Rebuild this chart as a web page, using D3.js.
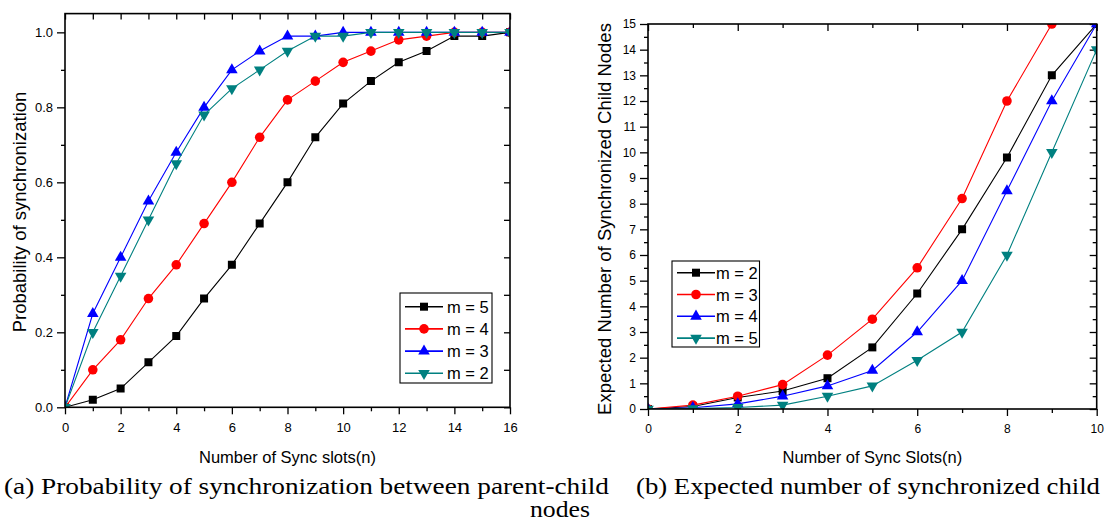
<!DOCTYPE html>
<html>
<head>
<meta charset="utf-8">
<script src="https://cdn.jsdelivr.net/npm/d3@7/dist/d3.min.js"></script>
<style>
  body { margin: 0; background: #fff; }
  svg text { font-family: "Liberation Sans", Arial, sans-serif; fill: #000; }
</style>
</head>
<body>
<svg id="fig" width="1107" height="524"></svg>
<script>
// ---- (a) probability of synchronization between parent and child ----
const slotsA = [0, 1, 2, 3, 4, 5, 6, 7, 8, 9, 10, 11, 12, 13, 14, 15, 16];
const probM5 = [0, 0.02, 0.05, 0.12, 0.19, 0.29, 0.38, 0.49, 0.60, 0.72, 0.81, 0.87, 0.92, 0.95, 0.99, 0.99, 1.0];
const probM4 = [0, 0.10, 0.18, 0.29, 0.38, 0.49, 0.60, 0.72, 0.82, 0.87, 0.92, 0.95, 0.98, 0.99, 1.0, 1.0, 1.0];
const probM3 = [0, 0.25, 0.40, 0.55, 0.68, 0.80, 0.90, 0.95, 0.99, 0.99, 1.0, 1.0, 1.0, 1.0, 1.0, 1.0, 1.0];
const probM2 = [0, 0.20, 0.35, 0.50, 0.65, 0.78, 0.85, 0.90, 0.95, 0.99, 0.99, 1.0, 1.0, 1.0, 1.0, 1.0, 1.0];
const xTicksA = [0, 2, 4, 6, 8, 10, 12, 14, 16];
const yTicksA = ["0.0", "0.2", "0.4", "0.6", "0.8", "1.0"];

// ---- (b) expected number of synchronized child nodes ----
const slotsB = [0, 1, 2, 3, 4, 5, 6, 7, 8, 9, 10];
const expM2 = [0, 0.10, 0.45, 0.70, 1.2, 2.4, 4.5, 7.0, 9.8, 13, 15];
const expM3 = [0, 0.15, 0.50, 0.95, 2.1, 3.5, 5.5, 8.2, 12, 15];
const expM4 = [0, 0.05, 0.20, 0.50, 0.9, 1.5, 3.0, 5.0, 8.5, 12, 15];
const expM5 = [0, 0.02, 0.06, 0.15, 0.5, 0.9, 1.9, 3.0, 6.0, 10, 14];
const xTicksB = [0, 2, 4, 6, 8, 10];
const yTicksB = ["0", "1", "2", "3", "4", "5", "6", "7", "8", "9", "10", "11", "12", "13", "14", "15"];

const COLORS = { black: "#000000", red: "#ff0000", blue: "#0000ff", teal: "#008080" };
const SHAPES = {
  square: { type: d3.symbolSquare, size: 64, rot: 0 },
  circle: { type: d3.symbolCircle, size: 72, rot: 0 },
  up:     { type: d3.symbolTriangle, size: 58, rot: 0 },
  down:   { type: d3.symbolTriangle, size: 58, rot: 180 }
};
const SERIF = '"Liberation Serif", "Times New Roman", Times, "Nimbus Roman", serif';

const svg = d3.select("#fig");

function symbolPath(shape) {
  return d3.symbol().type(SHAPES[shape].type).size(SHAPES[shape].size)();
}

function drawPanel(cfg) {
  const g = svg.append("g");
  const x = d3.scaleLinear().domain(cfg.xDomain).range(cfg.xRange);
  const y = d3.scaleLinear().domain(cfg.yDomain).range(cfg.yRange);
  const [x0, x1] = cfg.xRange;
  const [yb, yt] = cfg.yRange;

  // clipping region for the data marks
  const clipId = "clip-" + cfg.id;
  svg.append("clipPath").attr("id", clipId)
    .append("rect").attr("x", x0).attr("y", yt).attr("width", x1 - x0).attr("height", yb - yt);

  const styleAxis = sel => {
    sel.select(".domain").remove();
    sel.attr("font-family", null).attr("font-size", null);
    sel.selectAll("line").attr("stroke", "#000").attr("stroke-width", 1.3);
    sel.selectAll("text").style("font-size", cfg.tickFont + "px");
  };

  // bottom axis: labelled majors + minors, outward
  g.append("g").attr("transform", `translate(0,${yb})`)
    .call(d3.axisBottom(x).tickValues(cfg.xTicks).tickSize(7).tickPadding(8).tickFormat(d => d))
    .call(styleAxis);
  g.append("g").attr("transform", `translate(0,${yb})`)
    .call(d3.axisBottom(x).tickValues(cfg.xMinor).tickSize(4).tickFormat(""))
    .call(styleAxis);
  // top axis: inward ticks
  g.append("g").attr("transform", `translate(0,${yt})`)
    .call(d3.axisTop(x).tickValues(cfg.xTicks).tickSize(-cfg.topMajor).tickFormat(""))
    .call(styleAxis);
  g.append("g").attr("transform", `translate(0,${yt})`)
    .call(d3.axisTop(x).tickValues(cfg.xMinor).tickSize(-cfg.topMinor).tickFormat(""))
    .call(styleAxis);

  // left axis: labelled majors + minors, outward
  g.append("g").attr("transform", `translate(${x0},0)`)
    .call(d3.axisLeft(y).tickValues(cfg.yTickLabels.map(Number)).tickSize(8).tickPadding(4)
      .tickFormat((d, i) => cfg.yTickLabels[i]))
    .call(styleAxis);
  g.append("g").attr("transform", `translate(${x0},0)`)
    .call(d3.axisLeft(y).tickValues(cfg.yMinor).tickSize(4).tickFormat(""))
    .call(styleAxis);
  // right axis: inward ticks
  g.append("g").attr("transform", `translate(${x1},0)`)
    .call(d3.axisRight(y).tickValues(cfg.yTickLabels.map(Number)).tickSize(-cfg.rightMajor).tickFormat(""))
    .call(styleAxis);
  g.append("g").attr("transform", `translate(${x1},0)`)
    .call(d3.axisRight(y).tickValues(cfg.yMinor).tickSize(-cfg.rightMinor).tickFormat(""))
    .call(styleAxis);

  // series
  const data = g.append("g").attr("clip-path", `url(#${clipId})`);
  cfg.series.forEach(s => {
    const pts = s.values.map((v, i) => [cfg.xs[i], v]);
    data.append("path")
      .attr("d", d3.line().x(p => x(p[0])).y(p => y(p[1]))(pts))
      .attr("fill", "none").attr("stroke", s.color).attr("stroke-width", 1.1);
    data.selectAll(null).data(pts).enter().append("path")
      .attr("d", symbolPath(s.shape))
      .attr("transform", p => `translate(${x(p[0])},${y(p[1])}) rotate(${SHAPES[s.shape].rot})`)
      .attr("fill", s.color);
  });

  // frame
  g.append("rect").attr("x", x0).attr("y", yt).attr("width", x1 - x0).attr("height", yb - yt)
    .attr("fill", "none").attr("stroke", "#000").attr("stroke-width", 1.6);

  // legend
  const L = cfg.legend;
  const lg = g.append("g");
  lg.append("rect").attr("x", L.x).attr("y", L.y).attr("width", L.w).attr("height", L.h)
    .attr("fill", "#fff").attr("stroke", "#000").attr("stroke-width", 1.1);
  cfg.series.forEach((s, i) => {
    const cy = L.y + L.first + i * L.step;
    lg.append("line").attr("x1", L.x + 5).attr("x2", L.x + 5 + L.lineLen)
      .attr("y1", cy).attr("y2", cy).attr("stroke", s.color).attr("stroke-width", 1.6);
    lg.append("path").attr("d", symbolPath(s.shape))
      .attr("transform", `translate(${L.x + 5 + L.lineLen / 2},${cy}) rotate(${SHAPES[s.shape].rot})`)
      .attr("fill", s.color);
    lg.append("text").attr("x", L.x + L.textX).attr("y", cy + 6)
      .style("font-size", "16.5px").text(s.name);
  });

  // axis titles
  g.append("text").attr("x", (x0 + x1) / 2).attr("y", cfg.xTitleY)
    .attr("text-anchor", "middle").style("font-size", "16.5px").text(cfg.xTitle);
  g.append("text")
    .attr("transform", `translate(${cfg.yTitleX},${cfg.yTitleY}) rotate(-90)`)
    .attr("text-anchor", "middle").style("font-size", "18.5px").text(cfg.yTitle);
}

drawPanel({
  id: "a",
  xs: slotsA,
  xDomain: [0, 16], xRange: [65, 510],
  yDomain: [0, 1.05], yRange: [407.3, 13.6],
  xTicks: xTicksA, xMinor: [1, 3, 5, 7, 9, 11, 13, 15],
  yTickLabels: yTicksA, yMinor: [0.1, 0.3, 0.5, 0.7, 0.9],
  topMajor: 6, topMinor: 6, rightMajor: 6, rightMinor: 6,
  tickFont: 13,
  series: [
    { name: "m = 5", values: probM5, color: COLORS.black, shape: "square" },
    { name: "m = 4", values: probM4, color: COLORS.red, shape: "circle" },
    { name: "m = 3", values: probM3, color: COLORS.blue, shape: "up" },
    { name: "m = 2", values: probM2, color: COLORS.teal, shape: "down" }
  ],
  legend: { x: 400, y: 293, w: 92, h: 90, first: 13.7, step: 22.2, lineLen: 38, textX: 47 },
  xTitle: "Number of Sync slots(n)", xTitleY: 463,
  yTitle: "Probability of synchronization", yTitleX: 26, yTitleY: 212
});

drawPanel({
  id: "b",
  xs: slotsB,
  xDomain: [0, 10], xRange: [648, 1096.7],
  yDomain: [0, 15], yRange: [409, 24],
  xTicks: xTicksB, xMinor: [1, 3, 5, 7, 9],
  yTickLabels: yTicksB, yMinor: d3.range(0.5, 15, 1),
  topMajor: 7, topMinor: 4, rightMajor: 7, rightMinor: 4,
  tickFont: 12,
  series: [
    { name: "m = 2", values: expM2, color: COLORS.black, shape: "square" },
    { name: "m = 3", values: expM3, color: COLORS.red, shape: "circle" },
    { name: "m = 4", values: expM4, color: COLORS.blue, shape: "up" },
    { name: "m = 5", values: expM5, color: COLORS.teal, shape: "down" }
  ],
  legend: { x: 672, y: 261, w: 87.5, h: 86, first: 11.7, step: 21.8, lineLen: 38, textX: 44 },
  xTitle: "Number of Sync Slots(n)", xTitleY: 463,
  yTitle: "Expected Number of Synchronized Child Nodes", yTitleX: 611, yTitleY: 219
});

// sub-figure captions
const captions = [
  { text: "(a) Probability of synchronization between parent-child", x: 4, y: 494, len: 605 },
  { text: "nodes", x: 530, y: 517, len: 60 },
  { text: "(b) Expected number of synchronized child", x: 636, y: 494, len: 464 }
];
svg.append("g").selectAll("text").data(captions).enter().append("text")
  .attr("x", d => d.x).attr("y", d => d.y)
  .attr("textLength", d => d.len).attr("lengthAdjust", "spacingAndGlyphs")
  .attr("font-family", SERIF).style("font-family", SERIF)
  .style("font-size", "23px").style("font-weight", "normal")
  .text(d => d.text);
</script>
</body>
</html>
